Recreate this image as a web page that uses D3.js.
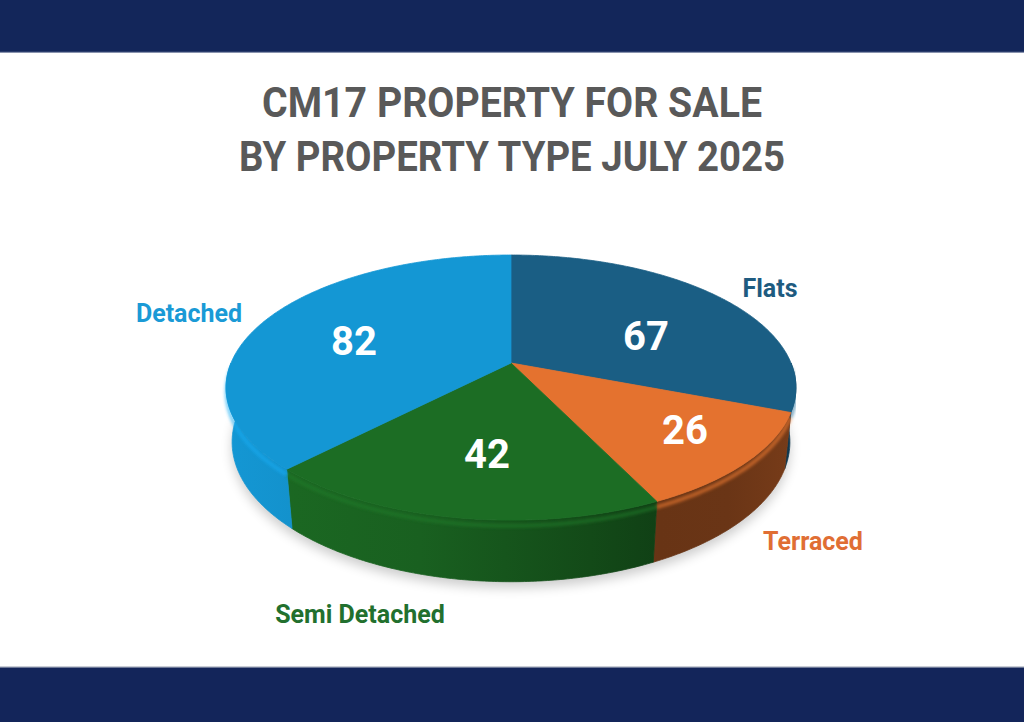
<!DOCTYPE html>
<html>
<head>
<meta charset="utf-8">
<script src="https://cdn.jsdelivr.net/npm/d3@7/dist/d3.min.js"></script>
<style>
html,body{margin:0;padding:0;background:#fff;}
svg{display:block;}
</style>
</head>
<body>
<svg id="chart" width="1024" height="722"></svg>
<script>
// ---- data ----
const categories = ["Flats", "Terraced", "Semi Detached", "Detached"];
const values = [67, 26, 42, 82];
const sliceColors = ["#1A5E84", "#E4722F", "#1C6D24", "#1497D4"];
const labelColors = ["#1E5B80", "#E06E34", "#22702E", "#1A9AD6"];
const titleLines = ["CM17 PROPERTY FOR SALE", "BY PROPERTY TYPE JULY 2025"];

// ---- layout ----
const W = 1024, H = 722;
const svg = d3.select("#chart");
const defs = svg.append("defs");

// banners
svg.append("rect").attr("x", 0).attr("y", 0).attr("width", W).attr("height", 52).attr("fill", "#13265A");
svg.append("rect").attr("x", 0).attr("y", 51).attr("width", W).attr("height", 2).attr("fill", "#3B4B78").attr("opacity", 0.6);
svg.append("rect").attr("x", 0).attr("y", 667).attr("width", W).attr("height", H - 667).attr("fill", "#13255A");
svg.append("rect").attr("x", 0).attr("y", 666).attr("width", W).attr("height", 1.5).attr("fill", "#C9CDD6");

// title
const titleBase = [117, 171];
const titleWidth = [500, 546];
svg.selectAll("text.title").data(titleLines).join("text")
  .attr("class", "title")
  .attr("x", 512)
  .attr("y", (d, i) => titleBase[i])
  .attr("text-anchor", "middle")
  .attr("font-family", "Roboto, 'DejaVu Sans', sans-serif")
  .attr("font-weight", 700)
  .attr("font-size", 42)
  .attr("fill", "#595959")
  .attr("textLength", (d, i) => titleWidth[i])
  .attr("lengthAdjust", "spacingAndGlyphs")
  .text(d => d);

// ---- 3D projection ----
const cx = 511, cy = 363;
const alpha = 27.2 * Math.PI / 180;
const ca = Math.cos(alpha), sa = Math.sin(alpha);
const Dist = 4.8, F = 280 * Dist, depth = 0.22;
function proj(t, r, Y) {
  const X = r * Math.sin(t), Z = -r * Math.cos(t);
  const yp = Y * ca - Z * sa;
  const d = Dist - Z * ca - Y * sa;
  return [cx + F * X / d, cy - F * yp / d];
}
function arcPts(a0, a1, r, Y) {
  const n = Math.max(2, Math.ceil((a1 - a0) / 0.01));
  return d3.range(n + 1).map(i => proj(a0 + (a1 - a0) * i / n, r, Y));
}
const line = d3.line();

const data = categories.map((c, i) => ({ name: c, value: values[i], color: sliceColors[i], lc: labelColors[i] }));
const arcs = d3.pie().sort(null).value(d => d.value).startAngle(0).endAngle(2 * Math.PI)(data);

// filters
const blur = defs.append("filter").attr("id", "shadow").attr("x", "-20%").attr("y", "-20%").attr("width", "140%").attr("height", "140%");
blur.append("feGaussianBlur").attr("stdDeviation", 6);
const soft = defs.append("filter").attr("id", "soft").attr("x", "-10%").attr("y", "-10%").attr("width", "120%").attr("height", "120%");
soft.append("feGaussianBlur").attr("stdDeviation", 1.6);

// shadow under the pie
svg.append("path")
  .attr("d", line(arcPts(0, 2 * Math.PI, 1.0, -depth)) + "Z")
  .attr("transform", "translate(0,6)")
  .attr("fill", "#000").attr("opacity", 0.2)
  .attr("filter", "url(#shadow)");

// side gradients
const stopsDef = [[0, 0.05], [0.34, 0.35], [0.64, 1.1], [0.76, 1.5], [0.88, 1.45], [1, 1.1]];
const sideExtra = { "Flats": 0.3, "Terraced": 0.7, "Semi Detached": 0, "Detached": -0.05 };
arcs.forEach((a, i) => {
  const g = defs.append("linearGradient").attr("id", "side" + i)
    .attr("gradientUnits", "userSpaceOnUse")
    .attr("x1", 226).attr("x2", 796).attr("y1", 0).attr("y2", 0);
  const extra = sideExtra[a.data.name];
  stopsDef.forEach(s => {
    g.append("stop").attr("offset", s[0]).attr("stop-color", d3.color(a.data.color).darker(Math.max(0, s[1] + extra)).formatHex());
  });
});

// front sides
const front0 = Math.PI / 2, front1 = 3 * Math.PI / 2;
const sides = arcs.map((a, i) => {
  const s0 = Math.max(a.startAngle, front0), s1 = Math.min(a.endAngle, front1);
  return { a, i, s0, s1, ok: s1 > s0 };
}).filter(d => d.ok);

svg.append("g").selectAll("path").data(sides).join("path")
  .attr("d", d => {
    const top = arcPts(d.s0, d.s1, 1, 0);
    const bot = arcPts(d.s0, d.s1, 1, -depth).reverse();
    return line(top.concat(bot)) + "Z";
  })
  .attr("fill", d => `url(#side${d.i})`)
  .attr("stroke", d => `url(#side${d.i})`)
  .attr("stroke-width", 0.8);

// rim highlight
svg.append("g").selectAll("path").data(sides).join("path")
  .attr("d", d => line(arcPts(d.s0, d.s1, 1, -0.02)))
  .attr("fill", "none")
  .attr("stroke", d => d3.color(d.a.data.color).brighter(0.4).formatHex())
  .attr("stroke-width", 4)
  .attr("opacity", 0.55)
  .attr("filter", "url(#soft)");

// top faces
svg.append("g").selectAll("path").data(arcs).join("path")
  .attr("d", a => line([proj(0, 0, 0)].concat(arcPts(a.startAngle, a.endAngle, 1, 0))) + "Z")
  .attr("fill", a => a.data.color)
  .attr("stroke", a => a.data.color)
  .attr("stroke-width", 0.8);

// ---- labels (text layout) ----
const valuePos = { "Flats": [646, 350], "Terraced": [685, 444], "Semi Detached": [487, 468], "Detached": [354, 355] };
const namePos = { "Flats": [770, 297], "Terraced": [813, 550], "Semi Detached": [360, 623], "Detached": [189, 322] };

svg.append("g").selectAll("text").data(arcs).join("text")
  .attr("x", a => valuePos[a.data.name][0])
  .attr("y", a => valuePos[a.data.name][1])
  .attr("text-anchor", "middle")
  .attr("font-family", "Roboto, 'DejaVu Sans', sans-serif")
  .attr("font-weight", 700)
  .attr("font-size", 40)
  .attr("fill", "#ffffff")
  .text(a => a.data.value);

svg.append("g").selectAll("text").data(arcs).join("text")
  .attr("x", a => namePos[a.data.name][0])
  .attr("y", a => namePos[a.data.name][1])
  .attr("text-anchor", "middle")
  .attr("font-family", "Roboto, 'DejaVu Sans', sans-serif")
  .attr("font-weight", 700)
  .attr("font-size", 25)
  .attr("fill", a => a.data.lc)
  .text(a => a.data.name);
</script>
</body>
</html>
